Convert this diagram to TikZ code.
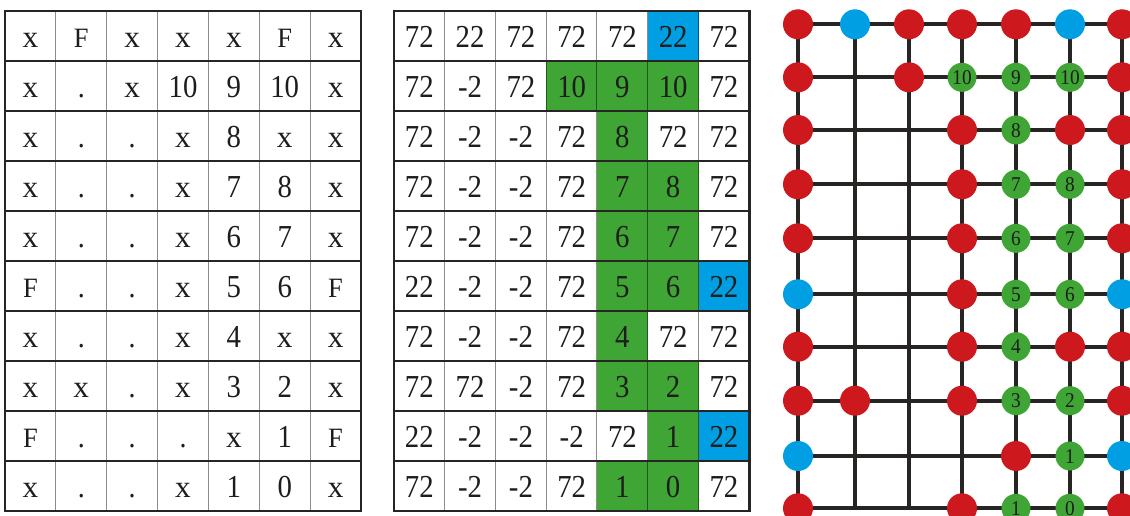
\documentclass[tikz,border=0pt]{standalone}
\usepackage{graphicx}
\usepackage{fontspec}
\setmainfont{Liberation Serif}
\definecolor{cred}{HTML}{CD181E}
\definecolor{cb}{HTML}{009FE3}
\definecolor{cg}{HTML}{3FA535}
\definecolor{cw}{HTML}{FFFFFF}
\definecolor{cline}{HTML}{262524}
\definecolor{ctext}{HTML}{1D1D1B}
\newcommand\Lx{{\fontsize{31}{31}\selectfont\scalebox{1.12}[1]{x}}}
\newcommand\LF{{\fontsize{28}{28}\selectfont\scalebox{1.05}[1]{F}}}
\newcommand\Ld{{\fontsize{31}{31}\selectfont .}}
\tikzset{
  cell/.style={rectangle, inner sep=0pt, minimum width=50.8pt, minimum height=50pt,
    text height=23.5pt, text depth=0pt, font=\fontsize{32}{32}\selectfont, text=ctext},
  sep/.style={draw=black, opacity=0.45, line width=0.9pt},
  rowline/.style={draw=cline, line width=2.4pt},
  border/.style={draw=cline, line width=2.4pt, line join=miter},
  gline/.style={draw=cline, line width=4pt},
  rdot/.style={circle, fill=cred, minimum size=30pt, inner sep=0pt},
  bdot/.style={circle, fill=cb, minimum size=30pt, inner sep=0pt},
  gdot/.style={circle, fill=cg, minimum size=29pt, inner sep=0pt, text=ctext,
    text height=14pt, text depth=0pt, font=\fontsize{21}{21}\selectfont}
}
\begin{document}
\begin{tikzpicture}[x=1pt,y=-1pt]
\useasboundingbox (0,0) rectangle (1130,515);
\clip (0,0) rectangle (1130,515);
\fill[white] (0,0) rectangle (1130,515);

% ---------- left grid ----------
\foreach \r/\row in {
  0/{\Lx,\LF,\Lx,\Lx,\Lx,\LF,\Lx},
  1/{\Lx,\Ld,\Lx,10,9,10,\Lx},
  2/{\Lx,\Ld,\Ld,\Lx,8,\Lx,\Lx},
  3/{\Lx,\Ld,\Ld,\Lx,7,8,\Lx},
  4/{\Lx,\Ld,\Ld,\Lx,6,7,\Lx},
  5/{\LF,\Ld,\Ld,\Lx,5,6,\LF},
  6/{\Lx,\Ld,\Ld,\Lx,4,\Lx,\Lx},
  7/{\Lx,\Lx,\Ld,\Lx,3,2,\Lx},
  8/{\LF,\Ld,\Ld,\Ld,\Lx,1,\LF},
  9/{\Lx,\Ld,\Ld,\Lx,1,0,\Lx}}{
  \foreach \t [count=\c from 0] in \row {
    \node[cell, fill=white] (L-\r-\c) at ({5+50.86*(\c+0.5)},{36+50*\r}) {\scalebox{0.9}[1]{\t}};
  }
}
\foreach \c in {1,...,6} \draw[sep] (L-0-\c.north west) -- (L-9-\c.south west);
\foreach \r in {1,...,9} \draw[rowline] (L-\r-0.north west) -- (L-\r-6.north east);
\draw[border] (L-0-0.north west) rectangle (L-9-6.south east);

% ---------- middle grid ----------
\foreach \r/\row in {
  0/{72/cw,22/cw,72/cw,72/cw,72/cw,22/cb,72/cw},
  1/{72/cw,-2/cw,72/cw,10/cg,9/cg,10/cg,72/cw},
  2/{72/cw,-2/cw,-2/cw,72/cw,8/cg,72/cw,72/cw},
  3/{72/cw,-2/cw,-2/cw,72/cw,7/cg,8/cg,72/cw},
  4/{72/cw,-2/cw,-2/cw,72/cw,6/cg,7/cg,72/cw},
  5/{22/cw,-2/cw,-2/cw,72/cw,5/cg,6/cg,22/cb},
  6/{72/cw,-2/cw,-2/cw,72/cw,4/cg,72/cw,72/cw},
  7/{72/cw,72/cw,-2/cw,72/cw,3/cg,2/cg,72/cw},
  8/{22/cw,-2/cw,-2/cw,-2/cw,72/cw,1/cg,22/cb},
  9/{72/cw,-2/cw,-2/cw,72/cw,1/cg,0/cg,72/cw}}{
  \foreach \t/\f [count=\c from 0] in \row {
    \node[cell, fill=\f] (M-\r-\c) at ({394+50.76*(\c+0.5)},{36+50*\r}) {\scalebox{0.9}[1]{\t}};
  }
}
\foreach \c in {1,...,6} \draw[sep] (M-0-\c.north west) -- (M-9-\c.south west);
\foreach \r in {1,...,9} \draw[rowline] (M-\r-0.north west) -- (M-\r-6.north east);
\draw[border] (M-0-0.north west) rectangle (M-9-6.south east);

% ---------- graph ----------
\foreach \x [count=\c from 0] in {798,855,909,962,1016,1070,1122} {
  \foreach \y [count=\r from 0] in {24.3,77.3,130,184.3,238.3,294.3,346.7,400.7,456,508.3} {
    \coordinate (g-\r-\c) at (\x,\y);
  }
}
\foreach \r in {0,...,9} \draw[gline] (g-\r-0) -- (g-\r-6);
\foreach \c in {0,...,6} \draw[gline] (g-0-\c) -- (g-9-\c);

\foreach \r/\c in {0/0,0/2,0/3,0/4,0/6, 1/0,1/2,1/6, 2/0,2/3,2/5,2/6, 3/0,3/3,3/6,
  4/0,4/3,4/6, 5/3, 6/0,6/3,6/5,6/6, 7/0,7/1,7/3,7/6, 8/4, 9/0,9/3,9/6}
  \node[rdot] (n-\r-\c) at (g-\r-\c) {};
\foreach \r/\c in {0/1,0/5,5/0,5/6,8/0,8/6}
  \node[bdot] (n-\r-\c) at (g-\r-\c) {};
\foreach \r/\c/\v in {1/3/10,1/4/9,1/5/10, 2/4/8, 3/4/7,3/5/8, 4/4/6,4/5/7, 5/4/5,5/5/6,
  6/4/4, 7/4/3,7/5/2, 8/5/1, 9/4/1,9/5/0}
  \node[gdot] (n-\r-\c) at (g-\r-\c) {\scalebox{0.92}[1]{\v}};
\end{tikzpicture}
\end{document}
